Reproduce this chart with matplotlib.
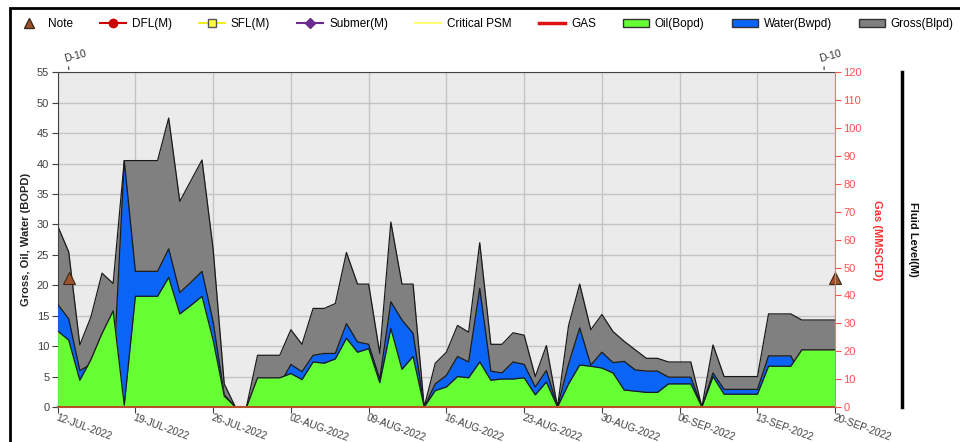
import numpy as np
import pandas as pd
import matplotlib
matplotlib.use("Agg")
import matplotlib.pyplot as plt
from matplotlib.lines import Line2D
from matplotlib.patches import Patch, Rectangle

plt.rcParams['font.family'] = ['Liberation Sans', 'DejaVu Sans']

# daily production, 12-JUL-2022 .. 20-SEP-2022
start_date = "2022-07-12"
gross = [29.8, 25.5, 10.2, 14.8, 22.0, 20.3, 40.5, 40.5, 40.5, 40.5,
         47.5, 33.8, 37.2, 40.6, 26.0, 3.8, 0.0, 0.0, 8.5, 8.5,
         8.5, 12.7, 10.3, 16.2, 16.2, 17.0, 25.4, 20.2, 20.2, 8.8,
         30.4, 20.2, 20.2, 0.0, 7.2, 9.0, 13.4, 12.3, 27.0, 10.3,
         10.3, 12.2, 11.8, 5.0, 10.1, 0.0, 13.4, 20.2, 12.7, 15.2,
         12.4, 10.8, 9.4, 8.0, 8.0, 7.4, 7.4, 7.4, 0.0, 10.2,
         5.0, 5.0, 5.0, 5.0, 15.3, 15.3, 15.3, 14.3, 14.3, 14.3,
         14.3]
water = [16.9, 14.5, 6.0, 7.0, 9.9, 4.5, 40.5, 22.3, 22.3, 22.3,
         26.0, 18.8, 20.5, 22.3, 14.0, 2.0, 0.0, 0.0, 3.7, 3.7,
         3.7, 7.0, 5.8, 8.5, 8.8, 8.8, 13.7, 10.7, 10.3, 4.6,
         17.3, 14.3, 12.1, 0.0, 3.8, 5.2, 8.3, 7.4, 19.5, 5.9,
         5.6, 7.4, 7.0, 3.3, 6.0, 0.0, 7.1, 13.0, 6.9, 9.0,
         7.3, 7.5, 6.1, 5.9, 5.9, 4.9, 4.9, 4.9, 0.0, 5.6,
         2.9, 2.9, 2.9, 2.9, 8.4, 8.4, 8.4, 4.9, 4.9, 4.9,
         4.9]
oil = [12.5, 11.0, 4.4, 7.8, 12.1, 15.8, 0.3, 18.2, 18.2, 18.2,
       21.3, 15.3, 16.7, 18.2, 11.0, 1.8, 0.0, 0.0, 4.8, 4.8,
       4.8, 5.5, 4.5, 7.4, 7.2, 7.9, 11.3, 9.0, 9.6, 4.0,
       12.9, 6.2, 8.3, 0.0, 2.7, 3.3, 5.0, 4.8, 7.4, 4.4,
       4.6, 4.6, 4.8, 2.0, 4.1, 0.0, 3.8, 6.9, 6.7, 6.4,
       5.6, 2.8, 2.6, 2.4, 2.4, 3.8, 3.8, 3.8, 0.0, 5.0,
       2.1, 2.1, 2.1, 2.1, 6.7, 6.7, 6.7, 9.4, 9.4, 9.4,
       9.4]

# notes (triangles) and their labels on top
note_dates = ["2022-07-13", "2022-09-20"]
note_values = [21.2, 21.2]
note_label_dates = ["2022-07-13", "2022-09-19"]
note_labels = ["D-10", "D-10"]

dates = pd.date_range(start_date, periods=len(gross), freq="D")
tick_dates = dates[::7]
note_dates = pd.to_datetime(note_dates)
note_label_dates = pd.to_datetime(note_label_dates)

c_gross = "#808080"
c_water = "#0a64f5"
c_oil = "#66ff33"
c_edge = "#1a1a1a"

fig = plt.figure(figsize=(9.6, 4.42), dpi=100)
ax = fig.add_axes([0.060, 0.0792, 0.810, 0.757])
ax.set_facecolor("#ebebeb")

# filled areas, all from zero, gross behind, each outline hidden by the next fill
z = 2
for vals, col in [(gross, c_gross), (water, c_water), (oil, c_oil)]:
    ax.fill_between(dates, vals, 0, color=col, lw=0, zorder=z)
    ax.plot(dates, vals, color=c_edge, lw=0.9, zorder=z + 0.5)
    z += 1

ax.set_xlim(dates[0], dates[-1])
ax.set_ylim(0, 55)
ax.set_yticks(np.arange(0, 56, 5))
ax.set_xticks(tick_dates)
ax.set_xticklabels([d.strftime("%d-%b-%Y").upper() for d in tick_dates])
ax.grid(True, color="#c4c4c4", lw=1, zorder=0)
ax.set_axisbelow(True)
for lab in ax.get_xticklabels():
    lab.set_rotation(-20)
    lab.set_ha("left")
    lab.set_va("top")
    lab.set_rotation_mode("anchor")
ax.tick_params(axis="y", labelsize=8, colors="#404040", length=4, pad=2)
ax.tick_params(axis="x", labelsize=7.3, colors="#404040", length=4, pad=0)
ax.set_ylabel("Gross, Oil, Water (BOPD)", fontsize=8, fontweight="bold", color="#222222", labelpad=4)
ax.spines["top"].set_color("#444444")
ax.spines["left"].set_color("#444444")
ax.spines["bottom"].set_color("#b4502a")
ax.spines["bottom"].set_linewidth(1.5)
ax.spines["bottom"].set_zorder(6)
ax.spines["right"].set_visible(False)

# notes
ax.plot(note_dates, note_values, ls="none", marker="^", ms=8, mfc="#a0522d",
        mec="#3b2a1a", mew=0.8, zorder=7, clip_on=False)
for d, t in zip(note_label_dates, note_labels):
    ax.annotate("", xy=(d, 55), xytext=(0, 6), textcoords="offset points",
                arrowprops=dict(arrowstyle="-", color="#333333", lw=0.8), annotation_clip=False)
    ax.annotate(t, xy=(d, 55), xytext=(-4, 6), textcoords="offset points",
                rotation=15, fontsize=7.5, color="#333333", ha="left", va="bottom",
                annotation_clip=False)

# gas axis
ax2 = ax.twinx()
ax2.set_ylim(0, 120)
ax2.set_yticks(np.arange(0, 121, 10))
ax2.spines["right"].set_color("#ff7070")
for s in ["top", "left", "bottom"]:
    ax2.spines[s].set_visible(False)
ax2.tick_params(axis="y", labelsize=8, colors="#ff5050", length=4, pad=2)
ax2.set_ylabel("Gas (MMSCFD)", rotation=270, fontsize=8, fontweight="bold",
               color="#ff3030", labelpad=14)

# fluid level axis
ax3 = ax.twinx()
ax3.spines["right"].set_position(("axes", 1.0855))
ax3.spines["right"].set_linewidth(2.5)
ax3.spines["right"].set_color("black")
for s in ["top", "left", "bottom"]:
    ax3.spines[s].set_visible(False)
ax3.set_yticks([])
ax3.set_ylabel("Fluid Level(M)", rotation=270, fontsize=8, fontweight="bold",
               color="#111111", labelpad=12)

# legend
handles = [
    Line2D([], [], ls="none", marker="^", ms=7, mfc="#a0522d", mec="#3b2a1a"),
    Line2D([], [], color="#cc0000", lw=1.5, marker="o", ms=6),
    Line2D([], [], color="#f0f020", lw=1.5, marker="s", ms=6, mfc="#ffff40", mec="#555555"),
    Line2D([], [], color="#6a2c91", lw=1.5, marker="D", ms=5),
    Line2D([], [], color="#ffff70", lw=1.5),
    Line2D([], [], color="#dd1111", lw=2.5),
    Patch(fc=c_oil, ec="#333333"),
    Patch(fc=c_water, ec="#333333"),
    Patch(fc=c_gross, ec="#333333"),
]
labels = ["Note", "DFL(M)", "SFL(M)", "Submer(M)", "Critical PSM", "GAS",
          "Oil(Bopd)", "Water(Bwpd)", "Gross(Blpd)"]
fig.legend(handles, labels, loc="center", bbox_to_anchor=(0.505, 0.946), ncol=9,
           frameon=False, fontsize=8.5, handlelength=2.2, columnspacing=2.3,
           handletextpad=0.5)

# outer frame
fig.add_artist(Rectangle((0.0105, -0.2), 1.2, 1.2 - 8 / 442, transform=fig.transFigure,
                         fill=False, ec="black", lw=2))

fig.savefig("out.png", dpi=100)
